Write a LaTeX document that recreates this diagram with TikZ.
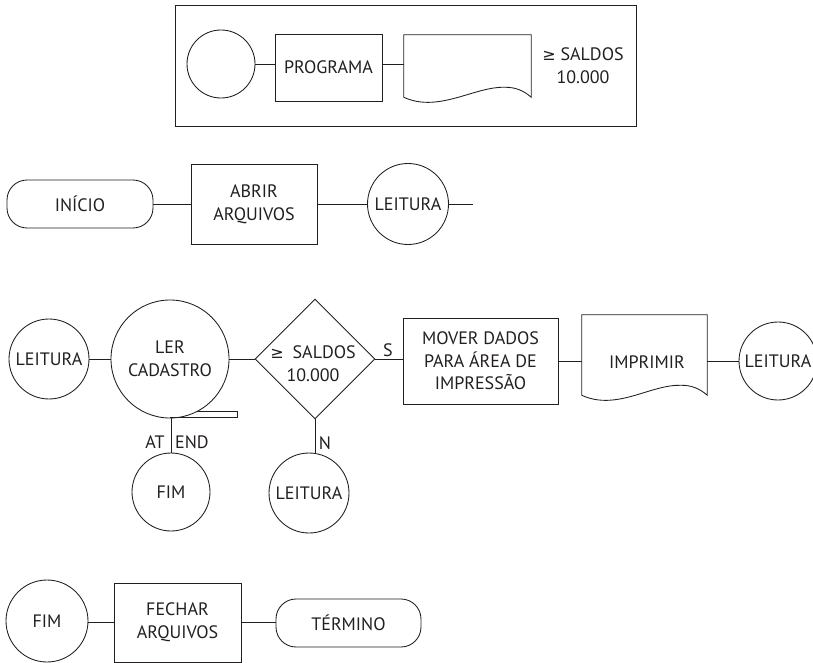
\documentclass[tikz,border=0pt]{standalone}
\usepackage{fontspec}
\setmainfont{PT Sans}
\newfontfamily\symfont{DejaVu Sans}
\usetikzlibrary{shapes.geometric,calc}
\definecolor{ink}{RGB}{35,31,32}
\newcommand\gesign{{\symfont\fontsize{12}{17}\selectfont ≥}}
% outline of a "document" symbol around a plain rectangle node
\newcommand\docoutline[1]{%
  \draw[line] (#1.south west) -- (#1.north west) -- (#1.north east) -- (#1.south east)
    .. controls +(-8,-7) and +(10,0) .. ($(#1.south east)+(-26,-10)$)
    .. controls +(-31,-1) and +(35,16) .. (#1.south west) -- cycle;}
\begin{document}
\begin{tikzpicture}[x=0.75pt,y=-0.75pt,
  every node/.style={font=\fontsize{13.5}{17}\selectfont, text=ink, align=center, inner sep=0pt},
  line/.style={draw=ink, line width=0.65pt},
  circ/.style={circle, draw=ink, line width=0.65pt, minimum size=#1*0.75pt},
  box/.style n args={2}{rectangle, draw=ink, line width=0.65pt,
    minimum width=#1*0.75pt, minimum height=#2*0.75pt},
  term/.style n args={2}{rectangle, rounded corners=15pt, draw=ink, line width=0.65pt,
    minimum width=#1*0.75pt, minimum height=#2*0.75pt},
  doc/.style n args={2}{rectangle, minimum width=#1*0.75pt, minimum height=#2*0.75pt},
  decision/.style={diamond, draw=ink, line width=0.65pt, aspect=1,
    minimum width=#1*0.75pt, minimum height=#1*0.75pt},
]
\useasboundingbox (0,0) rectangle (813,663);

% legend frame: connector, program, report and its condition
\node[box={461}{121}] (frame) at (405.5,65.5) {};
\node[circ=68] (conn0) at (221,64) {};
\node[box={107}{67}] (prog) at (328.5,67.5) {PROGRAMA};
\node[doc={127}{62}] (rep0) at (467.5,66) {};
\docoutline{rep0}
\node (cond0) at (583,66) {\gesign\ SALDOS\\10.000};
\draw[line] (conn0.east) -- (conn0.east -| prog.west);
\draw[line] (prog.east |- conn0.east) -- (rep0.west |- conn0.east);

% opening sequence
\node[term={146}{48}] (ini) at (80,204) {INÍCIO};
\node[box={126}{80}] (open) at (254,204) {ABRIR\\ARQUIVOS};
\node[circ=81] (rd1) at (408,204) {LEITURA};
\coordinate (rd1out) at (473,204);
\draw[line] (ini.east) -- (open.west);
\draw[line] (open.east) -- (rd1.west);
\draw[line] (rd1.east) -- (rd1out);

% reading loop
\node[circ=80] (rd2) at (49,359) {LEITURA};
\node[circ=118] (tape) at (170,359) {LER\\CADASTRO};
\coordinate (tapefoot) at ($(tape.center)+(1,58)$);
\draw[line] ($(tape.center)+(27,52)$) -- ++(40,0) -- ++(0,6) -- ($(tape.center)+(0,58)$);
\node[circ=78] (end1) at (171,492) {FIM};
\draw[line] (tapefoot) -- (end1.north);
\node (atlbl) at (155,442) {AT};
\node (endlbl) at (192,442) {END};
\draw[line] (rd2.east) -- (tape.west);

\node[decision=120] (test) at (315,359) {};
\node (testtxt) at (313,364) {\gesign\enspace SALDOS\\10.000};
\draw[line] (tape.east) -- (test.west);

\node[box={155}{86}] (move) at (480.5,361) {MOVER DADOS\\PARA ÁREA DE\\IMPRESSÃO};
\draw[line] (test.east) -- (move.west |- test.east);
\node (slbl) at (388,350) {S};

\node[circ=80] (rd3) at (309,493) {LEITURA};
\draw[line] (test.south) -- (test.south |- rd3.north);
\node (nlbl) at (325,443) {N};

\node[doc={125}{80}] (prn) at (644.5,355) {};
\docoutline{prn}
\node (prntxt) at (647,362) {IMPRIMIR};
\draw[line] (move.east) -- (prn.west |- move.east);
\node[circ=78] (rd4) at (778,361) {LEITURA};
\draw[line] (prn.east |- rd4.west) -- (rd4.west);

% closing sequence
\node[circ=82] (end2) at (47,621) {FIM};
\node[box={127}{79}] (close) at (177.5,622.5) {FECHAR\\ARQUIVOS};
\node[term={145}{48}] (stop) at (348.5,623) {TÉRMINO};
\draw[line] (end2.east |- close.west) -- (close.west);
\draw[line] (close.east) -- (close.east -| stop.west);
\end{tikzpicture}
\end{document}
